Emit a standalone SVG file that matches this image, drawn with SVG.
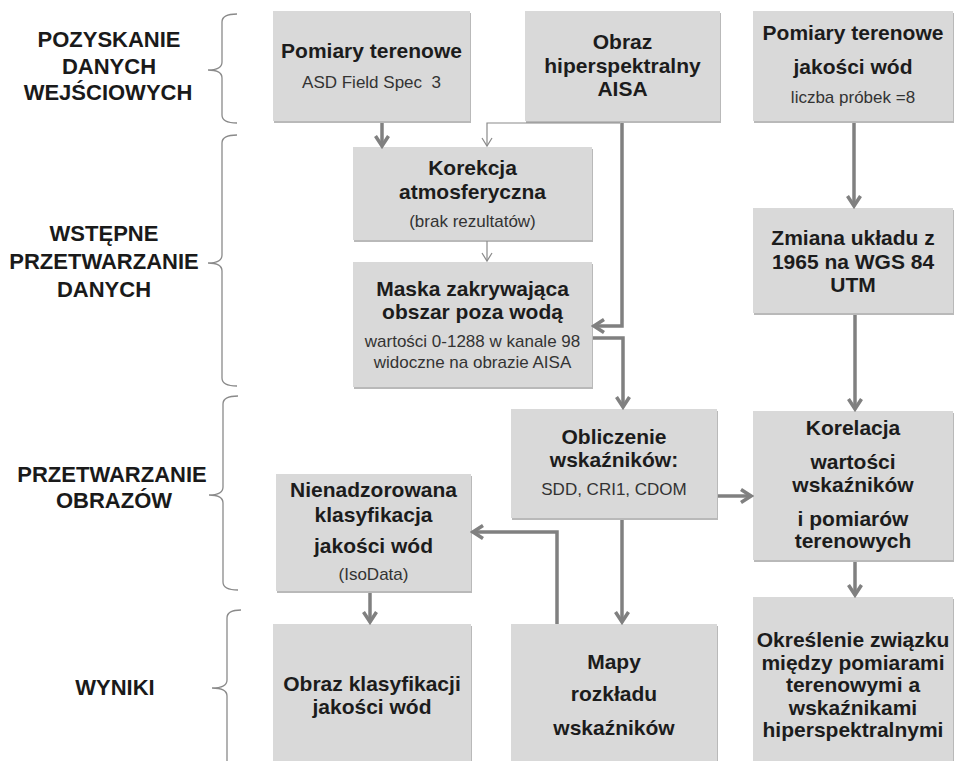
<svg xmlns="http://www.w3.org/2000/svg" width="954" height="761" viewBox="0 0 954 761">
<style>
  .box{fill:#d9d9d9}
  .shd{fill:#b9b9b9}
  .b{font-family:"Liberation Sans",Arial,sans-serif;font-weight:bold;font-size:21px;fill:#1c1c1c;text-anchor:middle}
  .r{font-family:"Liberation Sans",Arial,sans-serif;font-size:17px;fill:#333;text-anchor:middle}
  .lab{font-family:"Liberation Sans",Arial,sans-serif;font-weight:bold;font-size:22px;fill:#1a1a1a;text-anchor:middle}
  .brace{fill:none;stroke:#8a8a8a;stroke-width:1.3}
  .thick{fill:none;stroke:#808080;stroke-width:3.5;marker-end:url(#ah)}
  .thin{fill:none;stroke:#8a8a8a;stroke-width:1.2;marker-end:url(#ahs)}
</style>
<defs>
  <marker id="ah" markerUnits="userSpaceOnUse" viewBox="0 0 16 16" refX="13" refY="8" markerWidth="16" markerHeight="16" orient="auto">
    <path d="M3,1.5 L13,8 L3,14.5" fill="none" stroke="#808080" stroke-width="3.5"/>
  </marker>
  <marker id="ahs" markerUnits="userSpaceOnUse" viewBox="0 0 12 12" refX="10" refY="6" markerWidth="12" markerHeight="12" orient="auto">
    <path d="M2,1 L10,6 L2,11" fill="none" stroke="#8a8a8a" stroke-width="1.2"/>
  </marker>
</defs>
<rect width="954" height="761" fill="#fff"/>

<g id="labels">
  <text class="lab" x="109" y="47">POZYSKANIE</text>
  <text class="lab" x="109" y="74">DANYCH</text>
  <text class="lab" x="108" y="100">WEJŚCIOWYCH</text>
  <text class="lab" x="104" y="241">WSTĘPNE</text>
  <text class="lab" x="104" y="269">PRZETWARZANIE</text>
  <text class="lab" x="104" y="297">DANYCH</text>
  <text class="lab" x="112" y="482">PRZETWARZANIE</text>
  <text class="lab" x="114" y="508">OBRAZÓW</text>
  <text class="lab" x="115" y="695">WYNIKI</text>
</g>

<g id="braces">
  <path class="brace" d="M237,14 Q222,14 222,22 L222,62 Q222,70 208,70 Q222,70 222,78 L222,115 Q222,123 237,123"/>
  <path class="brace" d="M237,135 Q222,135 222,143 L222,255 Q222,263 208,263 Q222,263 222,271 L222,378 Q222,386 237,386"/>
  <path class="brace" d="M238,396 Q223,396 223,404 L223,487 Q223,495 209,495 Q223,495 223,503 L223,582 Q223,590 238,590"/>
  <path class="brace" d="M241,610 Q227,610 227,618 L227,680 Q227,688 212,688 Q227,688 227,696 L227,770"/>
</g>

<g id="n1"><rect class="shd" x="274" y="13" width="197" height="110"/><rect class="box" x="273" y="11" width="197" height="110"/>
  <text class="b" x="371.5" y="58">Pomiary terenowe</text>
  <text class="r" x="371.5" y="88" xml:space="preserve">ASD Field Spec  3</text></g>
<g id="n2"><rect class="shd" x="526" y="13" width="195" height="110"/><rect class="box" x="525" y="11" width="195" height="110"/>
  <text class="b" x="622.5" y="49">Obraz</text>
  <text class="b" x="622.5" y="73">hiperspektralny</text>
  <text class="b" x="622.5" y="96">AISA</text></g>
<g id="n3"><rect class="shd" x="754" y="13" width="200" height="110"/><rect class="box" x="753" y="11" width="200" height="110"/>
  <text class="b" x="853" y="40">Pomiary terenowe</text>
  <text class="b" x="853" y="74">jakości wód</text>
  <text class="r" x="853" y="103">liczba próbek =8</text></g>
<g id="n4"><rect class="shd" x="354" y="149" width="239" height="93"/><rect class="box" x="353" y="147" width="239" height="93"/>
  <text class="b" x="472.5" y="175">Korekcja</text>
  <text class="b" x="472.5" y="199">atmosferyczna</text>
  <text class="r" x="472.5" y="227">(brak rezultatów)</text></g>
<g id="n5"><rect class="shd" x="354" y="264" width="239" height="125"/><rect class="box" x="353" y="262" width="239" height="125"/>
  <text class="b" x="472.5" y="296">Maska zakrywająca</text>
  <text class="b" x="472.5" y="319">obszar poza wodą</text>
  <text class="r" x="472.5" y="347">wartości 0-1288 w kanale 98</text>
  <text class="r" x="472.5" y="368">widoczne na obrazie AISA</text></g>
<g id="n6"><rect class="shd" x="754" y="210" width="200" height="105"/><rect class="box" x="753" y="208" width="200" height="105"/>
  <text class="b" x="853" y="245">Zmiana układu z</text>
  <text class="b" x="853" y="269">1965 na WGS 84</text>
  <text class="b" x="853" y="292">UTM</text></g>
<g id="n7"><rect class="shd" x="512" y="411" width="206" height="109"/><rect class="box" x="511" y="409" width="206" height="109"/>
  <text class="b" x="614" y="444">Obliczenie</text>
  <text class="b" x="614" y="467">wskaźników:</text>
  <text class="r" x="614" y="495">SDD, CRI1, CDOM</text></g>
<g id="n8"><rect class="shd" x="754" y="413" width="200" height="149"/><rect class="box" x="753" y="411" width="200" height="149"/>
  <text class="b" x="853" y="435">Korelacja</text>
  <text class="b" x="853" y="469">wartości</text>
  <text class="b" x="853" y="492">wskaźników</text>
  <text class="b" x="853" y="526">i pomiarów</text>
  <text class="b" x="853" y="548">terenowych</text></g>
<g id="n9"><rect class="shd" x="277" y="476" width="195" height="117"/><rect class="box" x="276" y="474" width="195" height="117"/>
  <text class="b" x="373.5" y="497">Nienadzorowana</text>
  <text class="b" x="373.5" y="522">klasyfikacja</text>
  <text class="b" x="373.5" y="553">jakości wód</text>
  <text class="r" x="373.5" y="580">(IsoData)</text></g>
<g id="n10"><rect class="shd" x="274" y="626" width="198" height="140"/><rect class="box" x="273" y="624" width="198" height="140"/>
  <text class="b" x="372" y="691">Obraz klasyfikacji</text>
  <text class="b" x="372" y="714">jakości wód</text></g>
<g id="n11"><rect class="shd" x="512" y="626" width="206" height="140"/><rect class="box" x="511" y="624" width="206" height="140"/>
  <text class="b" x="614" y="669">Mapy</text>
  <text class="b" x="614" y="701">rozkładu</text>
  <text class="b" x="614" y="735">wskaźników</text></g>
<g id="n12"><rect class="shd" x="754" y="599" width="200" height="170"/><rect class="box" x="753" y="597" width="200" height="170"/>
  <text class="b" x="853" y="647">Określenie związku</text>
  <text class="b" x="853" y="670">między pomiarami</text>
  <text class="b" x="853" y="692">terenowymi a</text>
  <text class="b" x="853" y="715">wskaźnikami</text>
  <text class="b" x="853" y="737">hiperspektralnymi</text></g>

<g id="connectors">
  <path class="thick" d="M382,123 L382,146"/>
  <path class="thin" d="M620,123 L487,123 L487,146"/>
  <path class="thin" d="M487,241 L487,261"/>
  <path class="thick" d="M622,123 L622,326 L594,326"/>
  <path class="thick" d="M593,338 L623,338 L623,407"/>
  <path class="thick" d="M854,123 L854,206"/>
  <path class="thick" d="M855,315 L855,409"/>
  <path class="thick" d="M718,496 L751,496"/>
  <path class="thick" d="M622,520 L622,622"/>
  <path class="thick" d="M557,624 L557,532 L473,532"/>
  <path class="thick" d="M370,593 L370,622"/>
  <path class="thick" d="M855,562 L855,595"/>
</g>
</svg>
